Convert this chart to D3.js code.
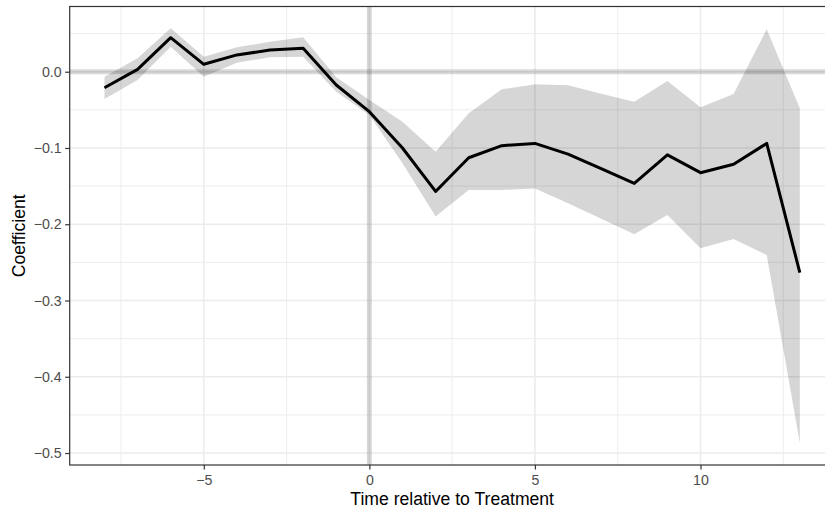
<!DOCTYPE html>
<html>
<head>
<meta charset="utf-8">
<script src="https://cdn.jsdelivr.net/npm/d3@7"></script>
<style>
  html, body { margin: 0; padding: 0; background: #fff; }
  svg { display: block; font-family: "Liberation Sans", Arial, sans-serif; }
</style>
</head>
<body>
<svg id="chart" width="825" height="510"></svg>
<script>
// Event-study estimates by period relative to treatment
const periods  = [-8, -7, -6, -5, -4, -3, -2, -1, 0, 1, 2, 3, 4, 5, 6, 7, 8, 9, 10, 11, 12, 13];
const estimate = [-0.021, 0.003, 0.0446, 0.0097, 0.022, 0.0284, 0.0307, -0.0174, -0.0524, -0.100, -0.157, -0.1128,
                  -0.097, -0.094, -0.108, -0.127, -0.1464, -0.109, -0.1324, -0.1214, -0.094, -0.2635];
const upperCI  = [-0.0066, 0.0176, 0.0569, 0.0197, 0.032, 0.0393, 0.0451, -0.0073, -0.037, -0.0656, -0.1049, -0.0546,
                  -0.0231, -0.0166, -0.0179, -0.0288, -0.0393, -0.0122, -0.0467, -0.0292, 0.0556, -0.048];
const lowerCI  = [-0.0358, -0.0109, 0.0328, -0.0066, 0.0118, 0.0189, 0.0197, -0.0262, -0.0568, -0.120, -0.190, -0.155,
                  -0.155, -0.153, -0.1726, -0.1927, -0.213, -0.1879, -0.2316, -0.2193, -0.2403, -0.487];
const xTicks = [-5, 0, 5, 10];
const yTicks = [0.0, -0.1, -0.2, -0.3, -0.4, -0.5];
const xMinor = [-7.5, -2.5, 2.5, 7.5, 12.5];
const yMinor = [0.05, -0.05, -0.15, -0.25, -0.35, -0.45];

const rows = periods.map((t, i) => ({ t, est: estimate[i], lo: lowerCI[i], hi: upperCI[i] }));

const svg = d3.select("#chart");
const panel = { left: 69.7, top: 6.5, right: 834.6, bottom: 465 };

const x = d3.scaleLinear().domain([-9.05, 14.05]).range([panel.left, panel.right]);
const y = d3.scaleLinear().domain([-0.5157, 0.0855]).range([panel.bottom, panel.top]);

svg.append("defs").append("clipPath").attr("id", "panel-clip")
  .append("rect")
  .attr("x", panel.left).attr("y", panel.top)
  .attr("width", panel.right - panel.left).attr("height", panel.bottom - panel.top);

const g = svg.append("g").attr("clip-path", "url(#panel-clip)");

// grid
const gridColor = "#ebebeb";
g.selectAll(".xminor").data(xMinor).join("line")
  .attr("x1", d => x(d)).attr("x2", d => x(d)).attr("y1", panel.top).attr("y2", panel.bottom)
  .attr("stroke", gridColor).attr("stroke-width", 0.9);
g.selectAll(".yminor").data(yMinor).join("line")
  .attr("y1", d => y(d)).attr("y2", d => y(d)).attr("x1", panel.left).attr("x2", panel.right)
  .attr("stroke", gridColor).attr("stroke-width", 0.9);
g.selectAll(".xmajor").data(xTicks).join("line")
  .attr("x1", d => x(d)).attr("x2", d => x(d)).attr("y1", panel.top).attr("y2", panel.bottom)
  .attr("stroke", gridColor).attr("stroke-width", 1.5);
g.selectAll(".ymajor").data(yTicks).join("line")
  .attr("y1", d => y(d)).attr("y2", d => y(d)).attr("x1", panel.left).attr("x2", panel.right)
  .attr("stroke", gridColor).attr("stroke-width", 1.5);

// reference lines at zero
g.append("line")
  .attr("x1", panel.left).attr("x2", panel.right).attr("y1", y(0)).attr("y2", y(0))
  .attr("stroke", "#000").attr("stroke-opacity", 0.15).attr("stroke-width", 5);
g.append("line")
  .attr("x1", x(0)).attr("x2", x(0)).attr("y1", panel.top).attr("y2", panel.bottom)
  .attr("stroke", "#000").attr("stroke-opacity", 0.15).attr("stroke-width", 5);

// confidence band
g.append("path").datum(rows)
  .attr("d", d3.area().x(d => x(d.t)).y0(d => y(d.lo)).y1(d => y(d.hi)))
  .attr("fill", "#000").attr("fill-opacity", 0.16);

// point estimates
g.append("path").datum(rows)
  .attr("d", d3.line().x(d => x(d.t)).y(d => y(d.est)))
  .attr("fill", "none").attr("stroke", "#000").attr("stroke-width", 3)
  .attr("stroke-linejoin", "round");

// panel border
svg.append("rect")
  .attr("x", panel.left).attr("y", panel.top)
  .attr("width", panel.right - panel.left).attr("height", panel.bottom - panel.top)
  .attr("fill", "none").attr("stroke", "#333333").attr("stroke-width", 1.2);

// axes
const fmtY = v => d3.format(".1f")(v).replace("-", "\u2212");
const fmtX = v => String(v).replace("-", "\u2212");

const xAxis = svg.append("g").attr("transform", `translate(0,${panel.bottom})`)
  .call(d3.axisBottom(x).tickValues(xTicks).tickFormat(fmtX).tickSize(4.5).tickPadding(5.5));
const yAxis = svg.append("g").attr("transform", `translate(${panel.left},0)`)
  .call(d3.axisLeft(y).tickValues(yTicks).tickFormat(fmtY).tickSize(4.5).tickPadding(3.5));

[xAxis, yAxis].forEach(ax => {
  ax.select(".domain").remove();
  ax.selectAll(".tick line").attr("stroke", "#333333").attr("stroke-width", 1.2);
  ax.selectAll(".tick text").attr("fill", "#4d4d4d")
    .style("font-family", "'Liberation Sans', Arial, sans-serif").style("font-size", "14.2px");
});

// axis titles
svg.append("text")
  .attr("x", (panel.left + panel.right) / 2).attr("y", 505)
  .attr("text-anchor", "middle").attr("fill", "#000").style("font-size", "17.6px")
  .text("Time relative to Treatment");
svg.append("text")
  .attr("transform", `translate(25,${(panel.top + panel.bottom) / 2}) rotate(-90)`)
  .attr("text-anchor", "middle").attr("fill", "#000").style("font-size", "17.6px")
  .text("Coefficient");
</script>
</body>
</html>
